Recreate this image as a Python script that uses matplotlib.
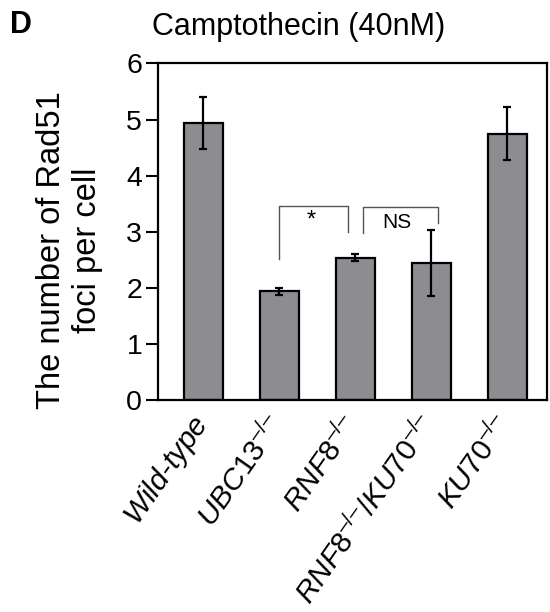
import matplotlib
matplotlib.use("Agg")
import matplotlib.pyplot as plt
from matplotlib.transforms import ScaledTranslation

# Rad51 foci counts after camptothecin treatment
genotypes = ["Wild-type", "UBC13", "RNF8", "RNF8/KU70", "KU70"]
tick_labels = [r"$\mathit{Wild}\text{-}\mathit{type}$",
               r"$\mathit{UBC13}^{\text{–/–}}$",
               r"$\mathit{RNF8}^{\text{–/–}}$",
               r"$\mathit{RNF8}^{\text{–/–}}\mathit{/KU70}^{\text{–/–}}$",
               r"$\mathit{KU70}^{\text{–/–}}$"]
foci = [4.94, 1.94, 2.54, 2.44, 4.75]
errors = [0.46, 0.06, 0.055, 0.59, 0.47]

plt.rcParams["font.family"] = ["Liberation Sans", "DejaVu Sans"]
plt.rcParams["mathtext.fontset"] = "custom"
plt.rcParams["mathtext.rm"] = "Liberation Sans"
plt.rcParams["mathtext.it"] = "Liberation Sans:italic"

fig = plt.figure(figsize=(5.5, 6.12), dpi=100)
ax = fig.add_axes([0.2864, 0.3464, 0.708, 0.550])

x = range(len(genotypes))
ax.bar(x, foci, width=0.51, color="#8d8c91", edgecolor="black", linewidth=1.6,
       yerr=errors, capsize=3,
       error_kw=dict(elinewidth=1.6, capthick=1.6, ecolor="black"))

ax.set_xlim(-0.6, 4.52)
ax.set_ylim(0, 6)
ax.set_yticks(range(7))
ax.tick_params(axis="y", labelsize=20.5, width=1.5, length=9, pad=2)
ax.tick_params(axis="x", length=0, pad=7)
ax.set_xticks(list(x))
ax.set_xticklabels(tick_labels, rotation=55, ha="right", va="top",
                   rotation_mode="anchor", fontsize=21.5)
# pull the slanted labels left so they end under the bar centres
shift = ScaledTranslation(-10 / 72, 0, fig.dpi_scale_trans)
for lab in ax.get_xticklabels():
    lab.set_transform(lab.get_transform() + shift)
for s in ax.spines.values():
    s.set_linewidth(1.6)

fig.text(0.127, 0.5915, "The number of Rad51\nfoci per cell", rotation=90,
         ha="center", va="center", multialignment="center", fontsize=23.5,
         linespacing=1.2)

# significance brackets
ax.plot([1, 1, 1.9, 1.9], [2.51, 3.46, 3.46, 2.99], color="#555555", lw=1)
ax.text(1.42, 3.2, "*", ha="center", va="center", fontsize=17)
ax.plot([2.1, 2.1, 3.09, 3.09], [2.98, 3.44, 3.44, 3.16], color="#555555", lw=1)
ax.text(2.55, 3.17, "NS", ha="center", va="center", fontsize=15)

fig.text(0.543, 0.956, "Camptothecin (40nM)", ha="center", va="center", fontsize=22)
fig.text(0.038, 0.959, "D", ha="center", va="center", fontsize=22, fontweight="bold")

fig.savefig("out.png", dpi=100)
